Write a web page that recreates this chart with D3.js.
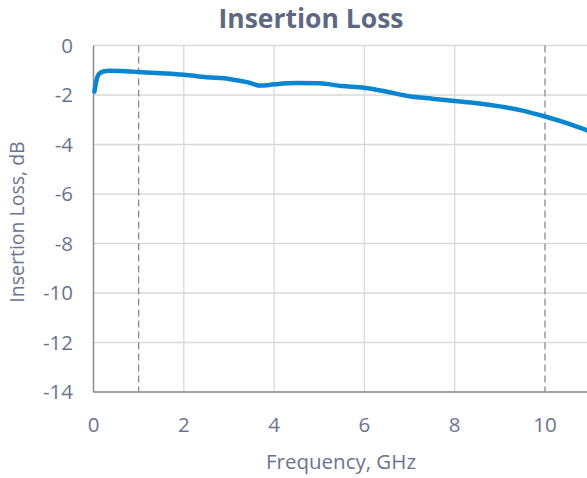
<!DOCTYPE html>
<html><head><meta charset="utf-8">
<script src="https://cdn.jsdelivr.net/npm/d3@7"></script>
<style>body{margin:0;background:#fff;overflow:hidden}svg{display:block;font-family:"Open Sans",sans-serif}</style>
</head><body>
<svg id="c" width="587" height="478"></svg>
<script>
const freq = [0.02,0.06,0.12,0.22,0.35,0.6,1,1.5,2,2.5,3,3.4,3.7,4,4.5,5,5.5,6,6.5,7,7.5,8,8.5,9,9.5,10,10.5,11,11.3];
const loss = [-1.86,-1.45,-1.15,-1.05,-1.02,-1.03,-1.07,-1.12,-1.18,-1.28,-1.35,-1.48,-1.62,-1.57,-1.52,-1.53,-1.64,-1.71,-1.87,-2.05,-2.15,-2.24,-2.33,-2.46,-2.63,-2.87,-3.15,-3.47,-3.65];
const xTicks = [0,2,4,6,8,10];
const yTicks = [0,-2,-4,-6,-8,-10,-12,-14];
const markers = [1,10];

const svg = d3.select("#c");
const x = d3.scaleLinear().domain([0,10]).range([93.5,545]);
const y = d3.scaleLinear().domain([0,-14]).range([45.5,392]);
const xMax = 12;
const txt = "#6a7490";

svg.append("g").selectAll("line").data(yTicks).join("line")
  .attr("x1",x(0)).attr("x2",x(xMax)).attr("y1",d=>y(d)).attr("y2",d=>y(d))
  .attr("stroke","#d9d9d9").attr("stroke-width",1.3);
svg.append("g").selectAll("line").data(xTicks.filter(d=>d>0 && !markers.includes(d))).join("line")
  .attr("x1",d=>x(d)).attr("x2",d=>x(d)).attr("y1",y(0)).attr("y2",y(-14))
  .attr("stroke","#d9d9d9").attr("stroke-width",1.3);
svg.append("g").selectAll("line").data(markers).join("line")
  .attr("x1",d=>x(d)).attr("x2",d=>x(d)).attr("y1",y(0)).attr("y2",y(-14))
  .attr("stroke","#8a8a8a").attr("stroke-width",1.3).attr("stroke-dasharray","7,4");
svg.append("line").attr("x1",x(0)).attr("x2",x(0)).attr("y1",y(0)).attr("y2",y(-14)).attr("stroke","#8c8c8c").attr("stroke-width",1.5);
svg.append("line").attr("x1",x(0)).attr("x2",x(xMax)).attr("y1",y(-14)).attr("y2",y(-14)).attr("stroke","#8c8c8c").attr("stroke-width",1.5);

svg.append("g").selectAll("text").data(yTicks).join("text")
  .attr("x",73).attr("y",d=>y(d)).attr("dy","0.35em").attr("text-anchor","end")
  .attr("fill",txt).attr("font-size",20.5).text(d=>d);
svg.append("g").selectAll("text").data(xTicks).join("text")
  .attr("x",d=>x(d)).attr("y",425).attr("dy","0.35em").attr("text-anchor","middle")
  .attr("fill",txt).attr("font-size",20.5).text(d=>d);

const line = d3.line().x((d,i)=>x(freq[i])).y(d=>y(d)).curve(d3.curveMonotoneX);
svg.append("path").datum(loss).attr("d",line).attr("fill","none")
  .attr("stroke","#0a86d0").attr("stroke-width",4.5).attr("stroke-linecap","round");

svg.append("text").attr("x",311).attr("y",28).attr("text-anchor","middle")
  .attr("font-size",26.5).attr("font-weight","bold").attr("fill","#5f6882").text("Insertion Loss");
svg.append("text").attr("x",341).attr("y",469).attr("text-anchor","middle")
  .attr("font-size",20.5).attr("fill",txt).text("Frequency, GHz");
svg.append("text").attr("transform","translate(24,222) rotate(-90)").attr("text-anchor","middle")
  .attr("font-size",19.5).attr("fill",txt).text("Insertion Loss, dB");
</script>
</body></html>
